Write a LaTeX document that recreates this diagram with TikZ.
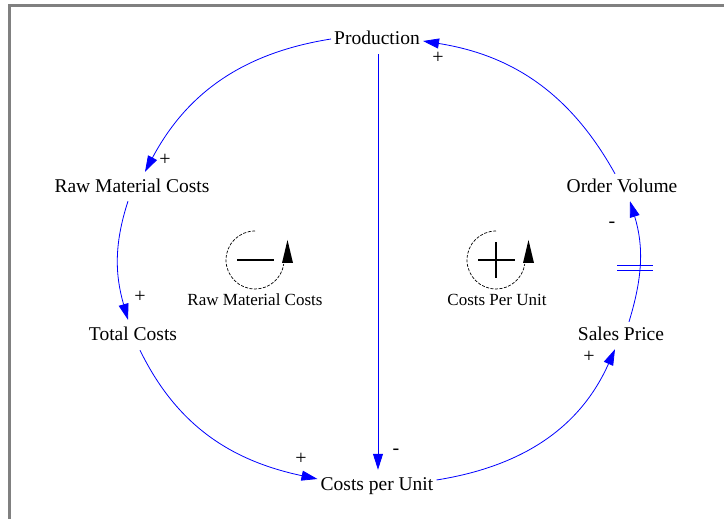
\documentclass[tikz,border=0pt]{standalone}
\usepackage{fontspec}
\setmainfont{Liberation Serif}
\usetikzlibrary{arrows.meta}
\definecolor{linkblue}{RGB}{0,0,255}
\definecolor{framegray}{RGB}{128,128,128}
\begin{document}
\begin{tikzpicture}[x=1pt,y=1pt,
  var/.style={inner xsep=3pt, inner ysep=5pt, text height=14pt, text depth=4pt,
    font=\fontsize{19.5}{22}\selectfont},
  link/.style={draw=linkblue, line width=0.8pt,
    -{Triangle[length=16pt,width=10pt]}, fill=none},
  sign/.style={font=\fontsize{20}{22}\selectfont, inner sep=0pt},
  looplabel/.style={font=\fontsize{17}{19}\selectfont, inner sep=0pt},
  loopcirc/.style={draw=black, line width=0.7pt, dash pattern=on 3pt off 1.5pt},
  loopsign/.style={draw=black, line width=2pt},
  looptip/.style={fill=black, draw=none},
  frame/.style={draw=framegray, line width=3pt}
]
\useasboundingbox (0,0) rectangle (724,519);
\fill[white] (0,0) rectangle (724,519);
% frame
\draw[frame] (9.5,0) -- (9.5,515) ;
\draw[frame] (8,513.5) -- (724,513.5);

% variables
\node[var] (prod) at (377,479) {Production};
\node[var] (rmc)  at (132,331) {Raw Material Costs};
\node[var] (tc)   at (133,183) {Total Costs};
\node[var] (cpu)  at (377,33)  {Costs per Unit};
\node[var] (sp)   at (621,183) {Sales Price};
\node[var] (ov)   at (622,331) {Order Volume};

% connectors
\draw[link] ([yshift=1pt]prod.west) to[out=189,in=62] ([xshift=13pt,yshift=2pt]rmc.north);
\draw[link] ([xshift=-4pt,yshift=1pt]rmc.south) to[out=252,in=106] ([xshift=-5pt,yshift=2pt]tc.north);
\draw[link] ([xshift=7pt]tc.south) to[out=296,in=168] ([yshift=7pt]cpu.west);
\draw[link] ([yshift=6pt]cpu.east) to[out=9,in=246] ([xshift=-6pt,yshift=1pt]sp.south);
\draw[link] ([xshift=8pt]sp.north) to[out=73,in=287] ([xshift=8pt,yshift=1pt]ov.south);
\draw[link] ([xshift=-7pt]ov.north) to[out=119,in=351] ([yshift=-1pt]prod.east);
\draw[link] ([xshift=1pt]prod.south) -- ([xshift=1pt,yshift=2pt]cpu.north);

% delay mark
\draw[draw=linkblue, line width=0.8pt] (617,254) -- (653,254);
\draw[draw=linkblue, line width=0.8pt] (617,249) -- (653,249);

% polarity signs
\node[sign] (s1) at (438,461) {+};
\node[sign] (s2) at (165,359) {+};
\node[sign] (s3) at (140,222) {+};
\node[sign] (s4) at (301,60)  {+};
\node[sign] (s5) at (396,67)  {-};
\node[sign] (s6) at (589,162) {+};
\node[sign] (s7) at (612,294) {-};

% loop symbol left (balancing)
\draw[loopcirc] (255,288) arc[start angle=90, end angle=352, radius=29];
\fill[looptip] (287.5,279) -- (282,256) -- (293,256) -- cycle;
\draw[loopsign] (237,259) -- (274,259);
\node[looplabel] (l1) at (255,219) {Raw Material Costs};

% loop symbol right (reinforcing)
\draw[loopcirc] (496,288) arc[start angle=90, end angle=352, radius=29];
\fill[looptip] (528.5,279) -- (523,256) -- (534,256) -- cycle;
\draw[loopsign] (478,259) -- (515,259);
\draw[loopsign] (496,241) -- (496,277);
\node[looplabel] (l2) at (497,219) {Costs Per Unit};
\end{tikzpicture}
\end{document}
